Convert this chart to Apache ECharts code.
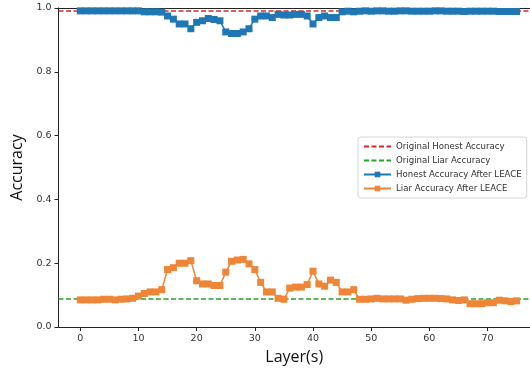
<!DOCTYPE html>
<html>
<head>
<meta charset="utf-8">
<title>Accuracy per layer</title>
<script src="https://cdn.jsdelivr.net/npm/echarts@6/dist/echarts.min.js"></script>
<style>
    html, body { margin: 0; padding: 0; background: #fff; }
    #chart { width: 530px; height: 373px; }
</style>
</head>
<body>
<div id="chart"></div>
<script>
// layer index on x
var layers = [0, 1, 2, 3, 4, 5, 6, 7, 8, 9, 10, 11, 12, 13, 14, 15, 16, 17, 18, 19,
    20, 21, 22, 23, 24, 25, 26, 27, 28, 29, 30, 31, 32, 33, 34, 35, 36, 37, 38, 39,
    40, 41, 42, 43, 44, 45, 46, 47, 48, 49, 50, 51, 52, 53, 54, 55, 56, 57, 58, 59,
    60, 61, 62, 63, 64, 65, 66, 67, 68, 69, 70, 71, 72, 73, 74, 75]

var honestAfter = [0.991, 0.991, 0.991, 0.991, 0.991, 0.991, 0.991, 0.991, 0.991, 0.991,
    0.991, 0.988, 0.988, 0.988, 0.987, 0.975, 0.965, 0.95, 0.95, 0.935,
    0.955, 0.96, 0.967, 0.964, 0.96, 0.925, 0.92, 0.92, 0.925, 0.935,
    0.965, 0.975, 0.975, 0.97, 0.98, 0.978, 0.978, 0.98, 0.98, 0.975,
    0.95, 0.97, 0.975, 0.97, 0.97, 0.988, 0.99, 0.988, 0.99, 0.991,
    0.99, 0.991, 0.991, 0.99, 0.99, 0.991, 0.991, 0.99, 0.99, 0.99,
    0.99, 0.991, 0.991, 0.99, 0.99, 0.99, 0.989, 0.99, 0.99, 0.99,
    0.99, 0.99, 0.989, 0.989, 0.989, 0.989]

var liarAfter = [0.085, 0.085, 0.085, 0.085, 0.087, 0.087, 0.085, 0.087, 0.088, 0.09,
    0.097, 0.105, 0.11, 0.11, 0.117, 0.18, 0.186, 0.2, 0.2, 0.208,
    0.145, 0.135, 0.135, 0.13, 0.13, 0.172, 0.206, 0.21, 0.212, 0.198,
    0.18, 0.14, 0.11, 0.11, 0.09, 0.087, 0.122, 0.125, 0.125, 0.133,
    0.175, 0.135, 0.128, 0.147, 0.14, 0.11, 0.11, 0.117, 0.087, 0.087,
    0.088, 0.09, 0.088, 0.088, 0.088, 0.088, 0.084, 0.087, 0.089, 0.09,
    0.09, 0.09, 0.089, 0.088, 0.085, 0.083, 0.085, 0.073, 0.073, 0.073,
    0.076, 0.076, 0.084, 0.082, 0.08, 0.082]

// baselines before LEACE
var originalHonest = 0.994
var originalLiar = 0.088

var yTicks = [0, 0.2, 0.4, 0.6, 0.8, 1.0]

var legendNames = ['Original Honest Accuracy', 'Original Liar Accuracy',
    'Honest Accuracy After LEACE', 'Liar Accuracy After LEACE']

// visible x range (figure is cut on the right, so no right spine)
var xMin = -3.75
var xMax = 77.3

function pairs(xs, ys) {
    var out = []
    for (var i = 0; i < xs.length; i++) {
        out.push([xs[i], ys[i]])
    }
    return out
}

function baseline(name, value, color) {
    return {
        name: name,
        type: 'line',
        data: [],
        symbol: 'none',
        color: color,
        lineStyle: { color: color, width: 1.5, type: [5, 2.5] },
        markLine: {
            silent: true,
            z: 1,
            symbol: 'none',
            label: { show: false },
            lineStyle: { color: color, width: 1.5, type: [5, 2.5] },
            data: [{ yAxis: value }]
        }
    }
}

function afterLine(name, values, color) {
    return {
        name: name,
        type: 'line',
        data: pairs(layers, values),
        symbol: 'rect',
        symbolSize: 7,
        showAllSymbol: true,
        color: color,
        z: 3,
        lineStyle: { color: color, width: 1.5 },
        itemStyle: { color: color },
        emphasis: { disabled: true }
    }
}

var chart = echarts.init(document.getElementById('chart'))
var tickFont = { fontFamily: 'DejaVu Sans', fontSize: 9.5, color: '#333' }
var spine = { color: '#222', width: 1 }

var option = {
    animation: false,
    backgroundColor: '#fff',
    grid: { left: 58.5, top: 8, bottom: 46, right: 0 },
    legend: {
        // the dashed baselines get no marker in the key
        data: [
            { name: legendNames[0], itemStyle: { opacity: 0 } },
            { name: legendNames[1], itemStyle: { opacity: 0 } },
            { name: legendNames[2] },
            { name: legendNames[3] }
        ],
        orient: 'vertical',
        left: 358, top: 137,
        itemWidth: 27, itemHeight: 7, itemGap: 5,
        padding: [5, 5, 5, 5],
        backgroundColor: '#fff',
        borderColor: '#d6d6d6', borderWidth: 1, borderRadius: 3,
        textStyle: { fontFamily: 'DejaVu Sans', fontSize: 8.6, color: '#333' }
    },
    xAxis: [{
        type: 'value',
        min: xMin, max: xMax,
        splitNumber: 8,
        name: 'Layer(s)',
        nameLocation: 'middle',
        nameGap: 22,
        nameTextStyle: { fontFamily: 'Open Sans', fontSize: 16, color: '#111' },
        splitLine: { show: false },
        axisLine: { onZero: false, lineStyle: spine },
        axisTick: { length: 4, lineStyle: { color: '#222' } },
        axisLabel: Object.assign({ margin: 7, showMinLabel: false, showMaxLabel: false }, tickFont)
    }, {
        // top spine only
        type: 'value',
        position: 'top',
        min: xMin, max: xMax,
        splitLine: { show: false },
        axisLine: { onZero: false, lineStyle: spine },
        axisTick: { show: false },
        axisLabel: { show: false }
    }],
    yAxis: {
        type: 'value',
        min: yTicks[0], max: yTicks[yTicks.length - 1],
        interval: 0.2,
        name: 'Accuracy',
        nameLocation: 'middle',
        nameGap: 33,
        nameTextStyle: { fontFamily: 'Open Sans', fontSize: 16, color: '#111' },
        splitLine: { show: false },
        axisLine: { show: true, onZero: false, lineStyle: spine },
        axisTick: { show: true, length: 4, lineStyle: { color: '#222' } },
        axisLabel: Object.assign({
            margin: 7,
            formatter: function (v) { return v.toFixed(1) }
        }, tickFont)
    },
    series: [
        baseline(legendNames[0], originalHonest, '#d62728'),
        baseline(legendNames[1], originalLiar, '#2ca02c'),
        afterLine(legendNames[2], honestAfter, '#1f77b4'),
        afterLine(legendNames[3], liarAfter, '#ee8537')
    ]
}

chart.setOption(option)
</script>
</body>
</html>
